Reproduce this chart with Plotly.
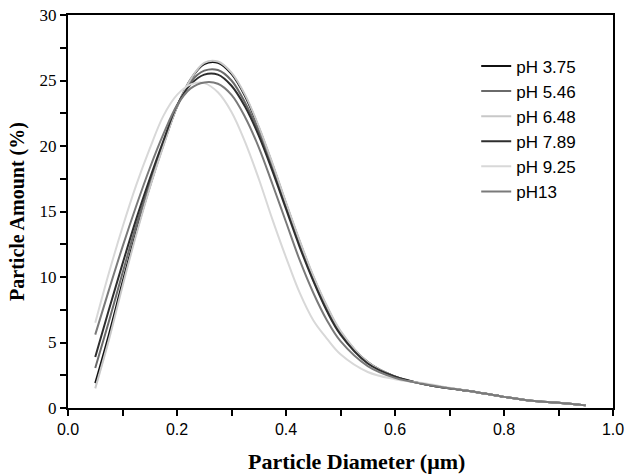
import plotly.graph_objects as go

diameter = [0.05, 0.075, 0.1, 0.125, 0.15, 0.175, 0.2, 0.225, 0.25, 0.275, 0.3, 0.325, 0.35,
            0.375, 0.4, 0.425, 0.45, 0.475, 0.5, 0.55, 0.6, 0.65, 0.7, 0.75, 0.8, 0.85, 0.9, 0.95]

ph_375 = [1.9, 5.6, 9.6, 13.4, 16.9, 20.1, 23.0, 25.1, 26.25, 26.35, 25.5, 23.8, 21.4,
          18.6, 15.6, 12.7, 10.0, 7.7, 5.8, 3.5, 2.4, 1.85, 1.5, 1.2, 0.85, 0.55, 0.4, 0.2]
ph_546 = [3.05, 6.6, 10.3, 13.9, 17.2, 20.2, 23.0, 24.9, 25.75, 25.8, 25.0, 23.3, 21.1,
          18.4, 15.4, 12.5, 9.8, 7.5, 5.7, 3.45, 2.4, 1.85, 1.5, 1.2, 0.85, 0.55, 0.4, 0.2]
ph_648 = [1.5, 5.2, 9.3, 13.2, 16.8, 20.0, 23.0, 25.1, 26.35, 26.45, 25.6, 23.9, 21.5,
          18.7, 15.7, 12.8, 10.1, 7.8, 5.9, 3.5, 2.4, 1.85, 1.5, 1.2, 0.85, 0.55, 0.4, 0.2]
ph_789 = [3.9, 7.5, 11.0, 14.4, 17.5, 20.4, 23.1, 24.7, 25.45, 25.45, 24.6, 23.0, 20.8,
          18.1, 15.2, 12.3, 9.7, 7.4, 5.6, 3.4, 2.4, 1.85, 1.5, 1.2, 0.85, 0.55, 0.4, 0.2]
ph_925 = [6.5, 10.3, 13.8, 17.0, 19.8, 22.3, 23.9, 24.7, 24.8, 24.1, 22.6, 20.3, 17.5,
          14.4, 11.5, 8.8, 6.7, 5.3, 4.1, 2.75, 2.2, 1.9, 1.55, 1.2, 0.85, 0.55, 0.4, 0.2]
ph_13 = [5.6, 9.0, 12.3, 15.4, 18.3, 20.9, 23.1, 24.4, 24.85, 24.75, 23.9, 22.2, 19.9,
         17.1, 14.2, 11.3, 8.8, 6.7, 5.1, 3.2, 2.3, 1.85, 1.5, 1.2, 0.85, 0.55, 0.4, 0.2]

series_names = ["pH 3.75", "pH 5.46", "pH 6.48", "pH 7.89", "pH 9.25", "pH13"]
series_values = [ph_375, ph_546, ph_648, ph_789, ph_925, ph_13]
series_colors = ["#111111", "#6a6a6a", "#c8c8c8", "#2e2e2e", "#d8d8d8", "#7a7a7a"]

x_tick_vals = [0.0, 0.2, 0.4, 0.6, 0.8, 1.0]
x_tick_text = ["0.0", "0.2", "0.4", "0.6", "0.8", "1.0"]
y_tick_vals = [0, 5, 10, 15, 20, 25, 30]
y_tick_text = ["0", "5", "10", "15", "20", "25", "30"]

fig = go.Figure()
for name, vals, col in zip(series_names, series_values, series_colors):
    fig.add_trace(go.Scatter(x=diameter, y=vals, mode="lines", name=name,
                             line=dict(color=col, width=2, shape="spline", smoothing=1.0)))

axis_common = dict(showline=True, linecolor="black", linewidth=2, mirror=True,
                   ticks="outside", ticklen=6, tickwidth=1.5, tickcolor="black",
                   showgrid=False, zeroline=False, automargin=False)

fig.update_layout(
    width=625, height=476,
    margin=dict(l=68, r=12, t=15, b=68),
    paper_bgcolor="white", plot_bgcolor="white",
    showlegend=True,
    legend=dict(x=0.749, y=0.915, xanchor="left", yanchor="top",
                bgcolor="rgba(0,0,0,0)", borderwidth=0,
                font=dict(family="Liberation Sans, Arial, sans-serif", size=17, color="black"),
                tracegroupgap=0),
    xaxis=dict(range=[0, 1.0], tickvals=x_tick_vals, ticktext=x_tick_text,
               tickfont=dict(family="Liberation Sans, Arial, sans-serif", size=16, color="black"),
               minor=dict(dtick=0.1, ticks="outside", ticklen=6, tickwidth=1.5, tickcolor="black"),
               **axis_common),
    yaxis=dict(range=[0, 30], tickvals=y_tick_vals, ticktext=y_tick_text,
               tickfont=dict(family="Liberation Serif, Times New Roman, serif", size=17, color="black"),
               title=dict(text="<b>Particle Amount (%)</b>", standoff=10,
                          font=dict(family="Liberation Serif, Times New Roman, serif", size=20, color="black")),
               minor=dict(dtick=2.5, ticks="outside", ticklen=6, tickwidth=1.5, tickcolor="black"),
               **axis_common),
    annotations=[dict(text="<b>Particle Diameter (\u03bcm)</b>", xref="paper", yref="paper",
                      x=0.53, y=-0.137, xanchor="center", yanchor="middle", showarrow=False,
                      font=dict(family="Liberation Serif, Times New Roman, serif", size=22, color="black"))],
)

fig.write_html("out.html", config={"displayModeBar": False},
               post_script="document.body.style.margin='0px';")
